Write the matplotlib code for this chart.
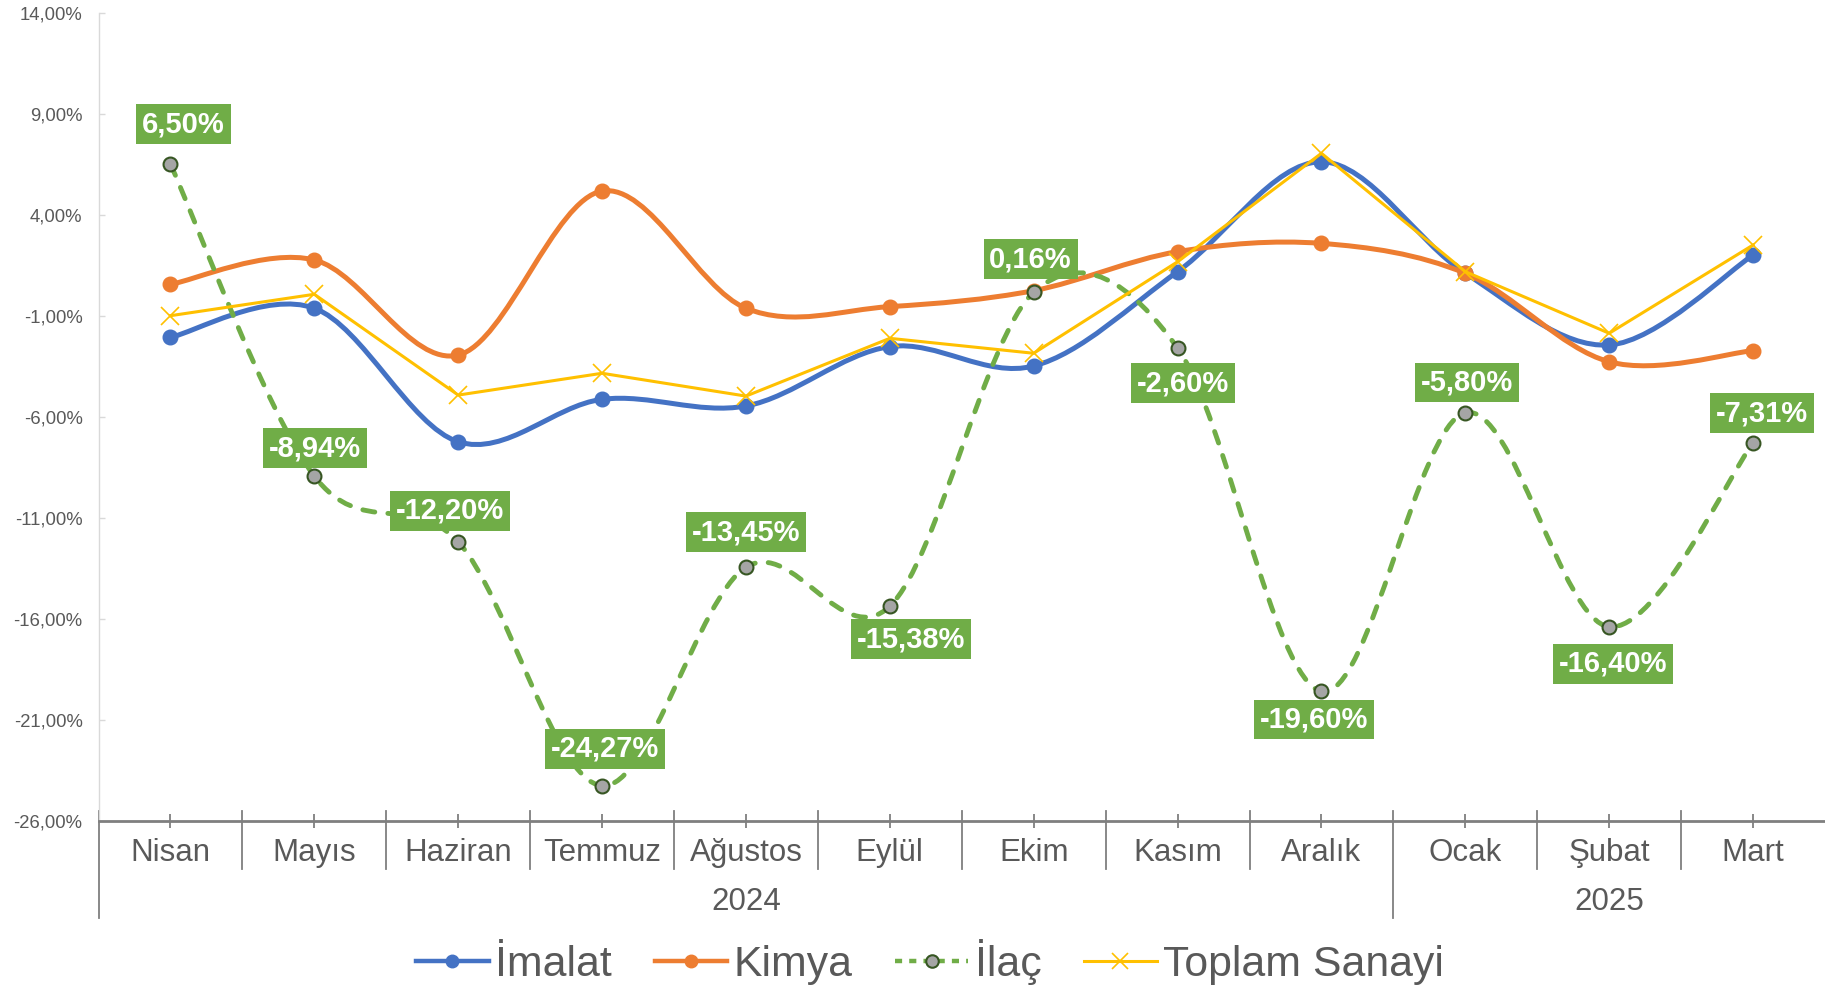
import numpy as np
import matplotlib
matplotlib.use("Agg")
import matplotlib.pyplot as plt
from matplotlib.path import Path
from matplotlib.patches import PathPatch
from matplotlib.lines import Line2D

plt.rcParams['font.family'] = ['Liberation Sans', 'DejaVu Sans']

months = ["Nisan", "Mayıs", "Haziran", "Temmuz", "Ağustos", "Eylül",
          "Ekim", "Kasım", "Aralık", "Ocak", "Şubat", "Mart"]
years = ["2024", "2025"]
year_first = [0, 9]     # index of first month in each year
year_last = [8, 11]

imalat = [-2.07, -0.63, -7.24, -5.14, -5.47, -2.53, -3.49, 1.18, 6.62, 1.10, -2.45, 2.00]
kimya = [0.55, 1.76, -2.95, 5.17, -0.63, -0.55, 0.24, 2.17, 2.58, 1.10, -3.28, -2.73]
ilac = [6.50, -8.94, -12.20, -24.27, -13.45, -15.38, 0.16, -2.60, -19.60, -5.80, -16.40, -7.31]
toplam = [-1.00, 0.06, -4.93, -3.85, -4.98, -2.12, -2.86, 1.67, 7.04, 1.18, -1.87, 2.50]

BLUE = '#4472C4'
ORANGE = '#ED7D31'
GREEN = '#70AD47'
YELLOW = '#FFC000'
TXT = '#595959'
AX = '#7F7F7F'

W, H = 1825, 988
fig = plt.figure(figsize=(W / 100, H / 100), dpi=100)
left, top, bot = 98.5, 12.7, 820.7
ax = fig.add_axes([left / W, (H - bot) / H, 1 - left / W, (bot - top) / H])
axh = bot - top


def smooth_path(y):
    # excel-like smoothed line: cubic bezier between points
    p = np.column_stack([np.arange(len(y), dtype=float), y])
    pts = np.vstack([p[0], p, p[-1]])
    verts = [p[0]]
    codes = [Path.MOVETO]
    for i in range(len(p) - 1):
        c1 = pts[i + 1] + (pts[i + 2] - pts[i]) / 6
        c2 = pts[i + 2] - (pts[i + 3] - pts[i + 1]) / 6
        verts += [c1, c2, p[i + 1]]
        codes += [Path.CURVE4] * 3
    return Path(verts, codes)


x = np.arange(len(months))

ax.add_patch(PathPatch(smooth_path(imalat), fill=False, ec=BLUE, lw=3.6, zorder=3))
ax.plot(x, imalat, ls='none', marker='o', ms=10.5, color=BLUE, zorder=3)

ax.add_patch(PathPatch(smooth_path(kimya), fill=False, ec=ORANGE, lw=3.6, zorder=4))
ax.plot(x, kimya, ls='none', marker='o', ms=10.5, color=ORANGE, zorder=4)

ax.add_patch(PathPatch(smooth_path(ilac), fill=False, ec=GREEN, lw=3.5,
                       ls=(0, (2.5, 2.7)), capstyle='round', zorder=5))
ax.plot(x, ilac, ls='none', marker='o', ms=10, mfc='#A5A5A5', mec='#375623', mew=1.5, zorder=5)

ax.plot(x, toplam, color=YELLOW, lw=2.2, marker='x', ms=13, mew=1.2, zorder=6)

# data labels for İlaç (offsets in pixels)
offs = [(13, 40), (1, 28), (-8, 31), (3, 37), (0, 35), (21, -33),
        (-3, 33), (5, -35), (-7, -28), (2, 30), (4, -37), (9, 30)]
for i, v in enumerate(ilac):
    lbl = f"{v:.2f}".replace('.', ',') + '%'
    ax.annotate(lbl, (i, v), xytext=offs[i], textcoords='offset pixels',
                ha='center', va='center', color='white', fontweight='bold', fontsize=21,
                bbox=dict(boxstyle='square,pad=0.2', fc=GREEN, ec='none'), zorder=10)

ax.set_xlim(-0.5, 11.5)
ax.set_ylim(-26, 14)
yt = np.arange(-26, 15, 5)
ax.set_yticks(yt)
ax.set_yticklabels([f"{v:.2f}".replace('.', ',') + '%' for v in yt])
ax.tick_params(axis='y', direction='in', length=4, width=1, color='#D9D9D9',
               labelcolor=TXT, labelsize=13.3, pad=11.5)

ax.set_xticks(x)
ax.tick_params(axis='x', direction='inout', length=10, width=1.3, color=AX, labelbottom=False)

for s in ['top', 'right']:
    ax.spines[s].set_visible(False)
ax.spines['left'].set_color('#D9D9D9')
ax.spines['left'].set_linewidth(1)
ax.spines['bottom'].set_color(AX)
ax.spines['bottom'].set_linewidth(2)

tr = ax.get_xaxis_transform()
for b in np.arange(-0.5, 11, 1):
    end = 97 if b in (-0.5, 8.5) else 48
    ax.plot([b, b], [10 / axh, -end / axh], transform=tr, color=AX, lw=1.3, clip_on=False)

for i, m in enumerate(months):
    ax.text(i, -40 / axh, m, transform=tr, ha='center', va='baseline', fontsize=22.5, color=TXT)
for yr, a, b in zip(years, year_first, year_last):
    ax.text((a + b) / 2, -89 / axh, yr, transform=tr, ha='center', va='baseline',
            fontsize=22.5, color=TXT)

handles = [
    Line2D([], [], color=BLUE, lw=3.2, marker='o', ms=9),
    Line2D([], [], color=ORANGE, lw=3.2, marker='o', ms=9),
    Line2D([], [], color=GREEN, lw=3.2, ls=(0, (1.6, 1.6)), marker='o', ms=9,
           mfc='#A5A5A5', mec='#375623', mew=1.5),
    Line2D([], [], color=YELLOW, lw=2.2, marker='x', ms=12, mew=1.2),
]
fig.legend(handles, ["İmalat", "Kimya", "İlaç", "Toplam Sanayi"], loc='center',
           bbox_to_anchor=(930 / W, 1 - 962 / H), ncol=4, frameon=False,
           fontsize=30.8, labelcolor=TXT, handlelength=1.7, handletextpad=0.15,
           columnspacing=1.0)

fig.savefig('out.png', dpi=100)
